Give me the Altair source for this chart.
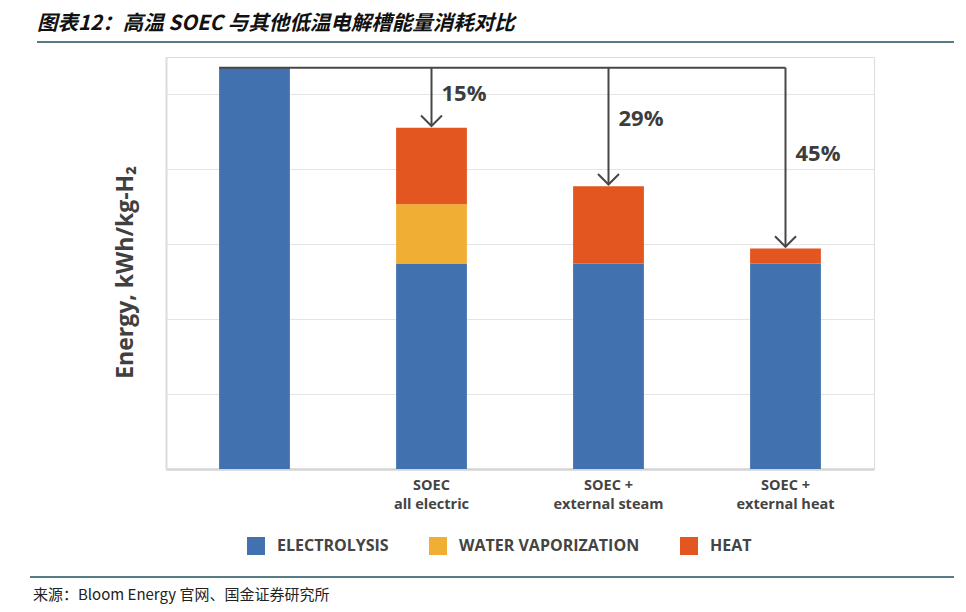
import altair as alt
import pandas as pd

# ---- data ----
categories = ["base", "SOEC|all electric", "SOEC +|external steam", "SOEC +|external heat"]
components = ["ELECTROLYSIS", "WATER VAPORIZATION", "HEAT"]
electrolysis = [5.35, 2.74, 2.74, 2.74]
water_vaporization = [0.0, 0.79, 0.0, 0.0]
heat = [0.0, 1.02, 1.03, 0.20]
pct_labels = ["15%", "29%", "45%"]
pct_label_y = [5.0, 4.67, 4.2]

title_text = "图表12：高温 SOEC 与其他低温电解槽能量消耗对比"
source_text = "来源：Bloom Energy 官网、国金证券研究所"
y_title = "Energy, kWh/kg-H\u2082"

colors = ["#4171AE", "#F0AE35", "#E3561F"]
ink = "#444444"
FONT = "Open Sans"

# ---- tables ----
rows = []
for i, c in enumerate(categories):
    for j, (name, series) in enumerate(zip(components, [electrolysis, water_vaporization, heat])):
        if series[i] > 0:
            rows.append({"cat": c, "component": name, "ord": j, "val": series[i]})
bars_df = pd.DataFrame(rows)

totals = [e + w + h for e, w, h in zip(electrolysis, water_vaporization, heat)]
top = totals[0]
drops_df = pd.DataFrame({
    "cat": categories[1:],
    "top": [top] * 3,
    "total": totals[1:],
    "pct": pct_labels,
    "ly": pct_label_y,
})
conn_df = pd.DataFrame({"cat": [categories[0]], "cat_end": [categories[-1]], "top": [top]})

xscale = alt.Scale(domain=categories, paddingInner=0.6, paddingOuter=0.3)
yscale = alt.Scale(domain=[0, 412 / 75], nice=False, zero=True)
xaxis = alt.Axis(
    title=None, labelAngle=0, ticks=False, grid=False,
    domainColor="#d4d4d4", domainWidth=2.5,
    labelExpr="datum.label == 'base' ? '' : split(datum.label, '|')",
    labelFont=FONT, labelFontSize=14.5, labelFontWeight="bold", labelColor=ink,
    labelPadding=9, labelLineHeight=19, labelBaseline="top",
)
yaxis = alt.Axis(
    title=y_title, values=[0, 1, 2, 3, 4, 5], labels=False, ticks=False,
    grid=True, gridColor="#e4e4e4", gridWidth=1,
    domainColor="#dcdcdc", domainWidth=2,
    titleFont=FONT, titleFontSize=23, titleFontWeight="bold", titleColor="#404040",
    titleAngle=270, titleX=-41, titleY=215, titleAlign="center", titleBaseline="middle",
)

bars = alt.Chart(bars_df).mark_bar().encode(
    x=alt.X("cat:N", scale=xscale, axis=xaxis),
    y=alt.Y("val:Q", stack="zero", scale=yscale, axis=yaxis),
    color=alt.Color(
        "component:N",
        scale=alt.Scale(domain=components, range=colors),
        legend=alt.Legend(
            title=None, orient="none", legendX=81, legendY=480, direction="horizontal",
            symbolType="square", symbolSize=324, symbolStrokeWidth=0,
            labelFont=FONT, labelFontSize=16, labelFontWeight="bold", labelColor=ink,
            labelOffset=12, columnPadding=40, padding=0, labelLimit=0,
        ),
    ),
    order=alt.Order("ord:Q", sort="ascending"),
)

arrow_color = "#474747"

connector = alt.Chart(conn_df).mark_rule(color=arrow_color, strokeWidth=2).encode(
    x=alt.X("cat:N", scale=xscale, axis=xaxis, bandPosition=0),
    x2=alt.X2("cat_end:N"),
    y=alt.Y("top:Q", scale=yscale, axis=yaxis),
)

drops = alt.Chart(drops_df).mark_rule(color=arrow_color, strokeWidth=2, y2Offset=-2).encode(
    x=alt.X("cat:N", scale=xscale, axis=xaxis),
    y=alt.Y("top:Q", scale=yscale, axis=yaxis),
    y2=alt.Y2("total:Q"),
)

heads = alt.Chart(drops_df).mark_point(
    shape="M-1,-0.5L0,0.5L1,-0.5", filled=False, stroke=arrow_color, strokeWidth=2,
    size=441, yOffset=-7, opacity=1,
).encode(
    x=alt.X("cat:N", scale=xscale, axis=xaxis),
    y=alt.Y("total:Q", scale=yscale, axis=yaxis),
)

pct = alt.Chart(drops_df).mark_text(
    align="left", baseline="middle", dx=10, font=FONT, fontSize=22,
    fontWeight="bold", color="#3d3d3d",
).encode(
    x=alt.X("cat:N", scale=xscale, axis=xaxis),
    y=alt.Y("ly:Q", scale=yscale, axis=yaxis),
    text="pct:N",
)

# ---- page decorations (title, rules, source) ----
title = alt.Chart(pd.DataFrame({"t": [title_text]})).mark_text(
    align="left", baseline="middle", font="Noto Sans CJK SC", fontSize=20.5,
    fontWeight="bold", fontStyle="italic", color="#111111",
).encode(x=alt.value(-129), y=alt.value(-33), text="t:N")

title_rule = alt.Chart(pd.DataFrame({"a": [0]})).mark_rule(color="#1f4f5c", strokeWidth=1.5).encode(
    x=alt.value(-129), x2=alt.value(788), y=alt.value(-15)
)
source_rule = alt.Chart(pd.DataFrame({"a": [0]})).mark_rule(color="#1f4f5c", strokeWidth=1.5).encode(
    x=alt.value(-136), x2=alt.value(788), y=alt.value(520)
)
source = alt.Chart(pd.DataFrame({"t": [source_text]})).mark_text(
    align="left", baseline="middle", font="Noto Sans CJK SC", fontSize=15, color="#222222",
).encode(x=alt.value(-133), y=alt.value(538), text="t:N")

chart = alt.layer(
    bars, connector, drops, heads, pct, title, title_rule, source_rule, source
).properties(
    width=708, height=412, autosize="none",
    padding={"left": 158, "top": 49, "right": 84, "bottom": 137},
).configure_view(strokeWidth=0).configure(font=FONT)

chart.save("out.html", embed_options={"renderer": "svg", "actions": False})
